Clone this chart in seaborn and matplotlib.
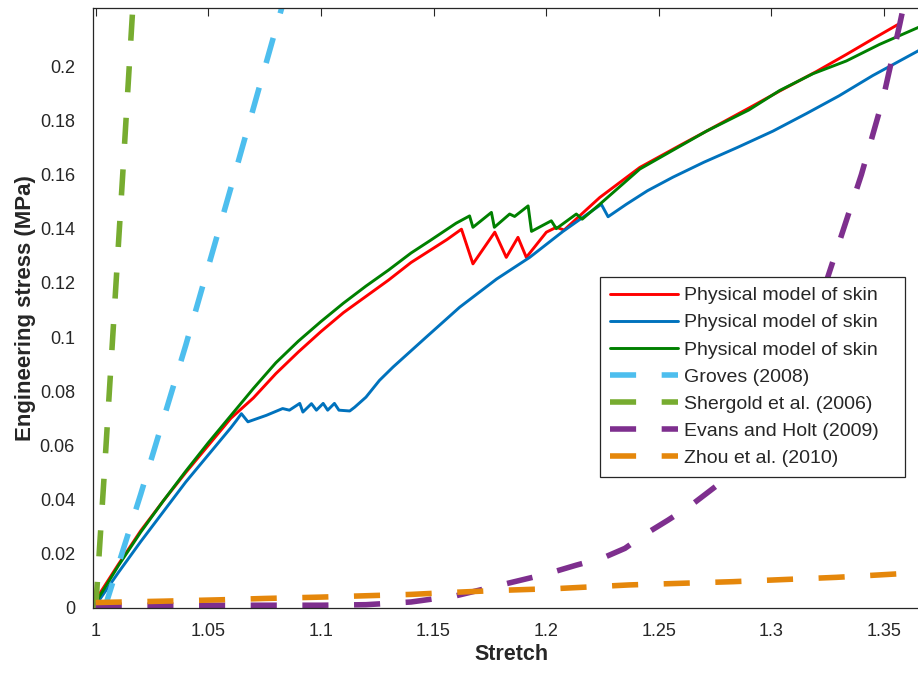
import numpy as np
import pandas as pd
import matplotlib
matplotlib.use("Agg")
import matplotlib.pyplot as plt
import seaborn as sns

# ---------------- data ----------------
red_x = [1.000, 1.010, 1.020, 1.030, 1.040, 1.050, 1.060, 1.070, 1.080, 1.090,
         1.100, 1.110, 1.120, 1.130, 1.140, 1.1483, 1.1560, 1.1624, 1.1675, 1.1772,
         1.1823, 1.1875, 1.1912, 1.2001, 1.2045, 1.2080, 1.2238, 1.2416, 1.2600,
         1.2712, 1.2900, 1.3037, 1.3200, 1.3333, 1.3450, 1.3563]
red_y = [0.003, 0.016, 0.0285, 0.0395, 0.0500, 0.0600, 0.0700, 0.0775, 0.0865, 0.0945,
         0.1020, 0.1090, 0.1150, 0.1210, 0.1275, 0.1319, 0.1360, 0.1398, 0.1270, 0.1387,
         0.1294, 0.1368, 0.1294, 0.1387, 0.1405, 0.1395, 0.1515, 0.1626, 0.1710,
         0.1760, 0.1845, 0.1908, 0.1980, 0.2043, 0.2100, 0.2154]

blue_x = [1.000, 1.010, 1.020, 1.030, 1.040, 1.050, 1.060, 1.0625, 1.0647, 1.0676,
          1.0758, 1.0830, 1.0860, 1.0906, 1.0920, 1.0958, 1.0980, 1.1010, 1.1030,
          1.1060, 1.1080, 1.1128, 1.1150, 1.1200, 1.1260, 1.1320, 1.1468, 1.1616,
          1.1780, 1.1927, 1.2075, 1.2245, 1.2275, 1.2356, 1.2450, 1.2563, 1.2700,
          1.2850, 1.3007, 1.3156, 1.3300, 1.3450, 1.3700]
blue_y = [0.001, 0.013, 0.0245, 0.0355, 0.0465, 0.0565, 0.0665, 0.0692, 0.0717, 0.0687,
          0.0711, 0.0736, 0.0730, 0.0755, 0.0723, 0.0754, 0.0730, 0.0755, 0.0730,
          0.0755, 0.0730, 0.0727, 0.0741, 0.0778, 0.0840, 0.0889, 0.1000, 0.1110,
          0.1214, 0.1294, 0.1390, 0.1490, 0.1444, 0.1490, 0.1540, 0.1590, 0.1645,
          0.1700, 0.1760, 0.1825, 0.1890, 0.1965, 0.2078]

green_x = [1.000, 1.010, 1.020, 1.030, 1.040, 1.050, 1.060, 1.070, 1.080, 1.090,
           1.100, 1.110, 1.120, 1.130, 1.140, 1.1483, 1.1600, 1.1660, 1.1675, 1.1757,
           1.1770, 1.1838, 1.1860, 1.1920, 1.1935, 1.2023, 1.2045, 1.2134, 1.2160,
           1.2238, 1.2416, 1.2712, 1.2900, 1.3037, 1.3185, 1.3333, 1.3480, 1.3700]
green_y = [0.002, 0.0155, 0.0280, 0.0395, 0.0505, 0.0610, 0.0710, 0.0810, 0.0905, 0.0985,
           0.1057, 0.1125, 0.1188, 0.1247, 0.1310, 0.1355, 0.1420, 0.1447, 0.1405, 0.1460,
           0.1405, 0.1454, 0.1445, 0.1484, 0.1390, 0.1429, 0.1400, 0.1454, 0.1435,
           0.1490, 0.1620, 0.1760, 0.1838, 0.1910, 0.1972, 0.2019, 0.2080, 0.2160]

groves_x = [1.004, 1.020, 1.040, 1.060, 1.0826, 1.090]
groves_y = [0.000, 0.042, 0.097, 0.155, 0.2215, 0.2440]

shergold_x = [1.000, 1.004, 1.008, 1.012, 1.0165, 1.019]
shergold_y = [0.000, 0.052, 0.106, 0.160, 0.2220, 0.2560]

evans_x = [1.000, 1.050, 1.100, 1.120, 1.140, 1.160, 1.180, 1.200, 1.2134, 1.2253,
           1.2350, 1.2445, 1.2541, 1.2645, 1.2829, 1.3000, 1.3150, 1.3250, 1.3400,
           1.3496, 1.3570, 1.3620]
evans_y = [0.0010, 0.0010, 0.0010, 0.0012, 0.0022, 0.0045, 0.0085, 0.0125, 0.0158, 0.0185,
           0.0220, 0.0275, 0.0324, 0.0380, 0.0497, 0.0680, 0.0930, 0.1220, 0.1600,
           0.1880, 0.2154, 0.2350]

zhou_x = [1.000, 1.030, 1.055, 1.075, 1.100, 1.120, 1.140, 1.160, 1.180, 1.206,
          1.237, 1.283, 1.329, 1.365, 1.370]
zhou_y = [0.0020, 0.0025, 0.0030, 0.0035, 0.0040, 0.0045, 0.0050, 0.0058, 0.0065, 0.0072,
          0.0085, 0.0097, 0.0113, 0.0130, 0.0132]

labels = ["Physical model of skin", "Physical model of skin", "Physical model of skin",
          "Groves (2008)", "Shergold et al. (2006)", "Evans and Holt (2009)",
          "Zhou et al. (2010)"]
x_ticks = [1, 1.05, 1.1, 1.15, 1.2, 1.25, 1.3, 1.35]
x_tick_labels = ["1", "1.05", "1.1", "1.15", "1.2", "1.25", "1.3", "1.35"]
y_ticks = [0, 0.02, 0.04, 0.06, 0.08, 0.1, 0.12, 0.14, 0.16, 0.18, 0.2]
y_tick_labels = ["0", "0.02", "0.04", "0.06", "0.08", "0.1", "0.12", "0.14",
                 "0.16", "0.18", "0.2"]

# ---------------- style ----------------
sns.set_theme(style="white")
plt.rcParams["font.family"] = ["Liberation Sans", "DejaVu Sans"]
plt.rcParams["axes.edgecolor"] = "#262626"
plt.rcParams["xtick.color"] = "#262626"
plt.rcParams["ytick.color"] = "#262626"

fig = plt.figure(figsize=(9.18, 6.77), dpi=100)
ax = fig.add_axes([0.1013, 0.102, 0.9107, 0.886])

series = [
    (red_x, red_y, "#FF0000", 2.1, "-"),
    (blue_x, blue_y, "#0072BD", 2.1, "-"),
    (green_x, green_y, "#008000", 2.1, "-"),
    (groves_x, groves_y, "#4DBEEE", 4.0, (0, (4.7, 4.6))),
    (shergold_x, shergold_y, "#77AC30", 4.0, (0, (4.7, 4.6))),
    (evans_x, evans_y, "#7E2F8E", 4.0, (0, (4.7, 4.6))),
    (zhou_x, zhou_y, "#E5870B", 4.0, (0, (4.7, 4.6))),
]

for (xs, ys, col, lw, ls), lab in zip(series, labels):
    df = pd.DataFrame({"x": xs, "y": ys})
    sns.lineplot(data=df, x="x", y="y", ax=ax, color=col, linewidth=lw,
                 linestyle=ls, sort=False, estimator=None, label=lab)

ax.set_xlim(0.9988, 1.370)
ax.set_ylim(0, 0.2214)
ax.set_xticks(x_ticks)
ax.set_xticklabels(x_tick_labels)
ax.set_yticks(y_ticks)
ax.set_yticklabels(y_tick_labels)
ax.tick_params(direction="in", length=6, width=0.8, labelsize=13, colors="#262626",
               top=True, right=True)
ax.tick_params(axis="x", pad=11)
ax.tick_params(axis="y", pad=13)
for sp in ax.spines.values():
    sp.set_linewidth(0.9)
    sp.set_color("#262626")

ax.set_xlabel("Stretch", fontsize=15.5, fontweight="bold", color="#262626", labelpad=3)
ax.set_ylabel("Engineering stress (MPa)", fontsize=16, fontweight="bold",
              color="#262626", labelpad=3)

leg = ax.legend(loc="upper left",
                bbox_to_anchor=(600 / 918, (677 - 472) / 677, 305 / 918, 195 / 677),
                bbox_transform=fig.transFigure, mode="expand", fontsize=14,
                frameon=True, fancybox=False, framealpha=1, edgecolor="#262626",
                handlelength=3.5, handletextpad=0.3, labelspacing=0.49,
                borderpad=0.5, borderaxespad=0)
leg.get_frame().set_linewidth(0.9)

fig.savefig("out.png", dpi=100)
